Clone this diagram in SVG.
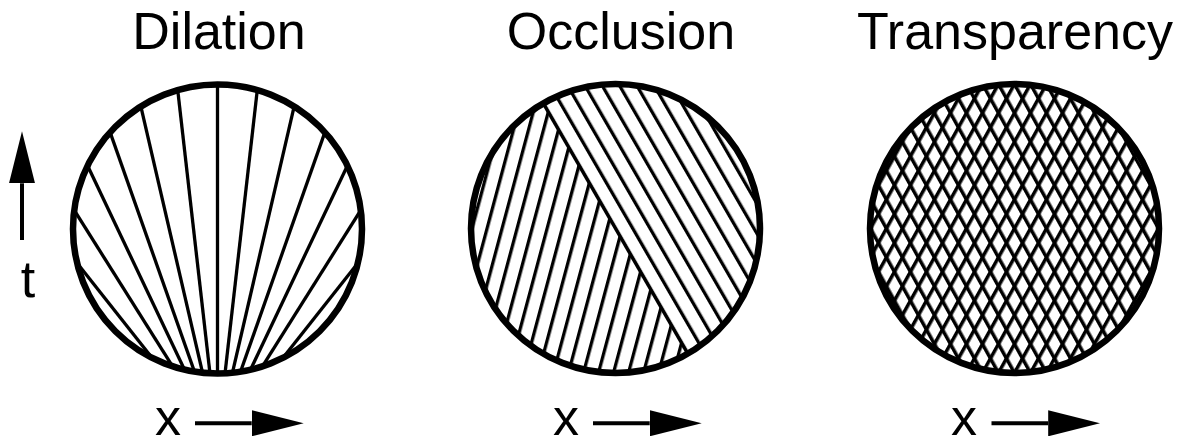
<svg xmlns="http://www.w3.org/2000/svg" width="1190" height="444" viewBox="0 0 1190 444">
<style>
.title{font-family:"Liberation Sans",Arial,Helvetica,sans-serif;font-size:52px;fill:#000;text-anchor:middle}
.ring{fill:none;stroke:#000;stroke-width:6.5}
.ray{stroke:#000;stroke-width:3.3;fill:none}
.axis{stroke:#000;stroke-width:4;fill:none;marker-end:url(#head)}
</style>
<defs>
<marker id="head" markerUnits="userSpaceOnUse" markerWidth="52" markerHeight="26" refX="0" refY="13" orient="auto" viewBox="0 0 52 26"><path d="M0,0 L52,13 L0,26 Z" fill="#000"/></marker>
<clipPath id="clip1"><circle cx="217.5" cy="229" r="145"/></clipPath>
<pattern id="hatchL" patternUnits="userSpaceOnUse" width="14.5" height="20" patternTransform="translate(615.5,228.5) rotate(15) translate(4.8,0)"><rect width="3.3" height="20" fill="#000"/></pattern>
<pattern id="hatchR" patternUnits="userSpaceOnUse" width="15" height="20" patternTransform="translate(615.5,228.5) rotate(-30) translate(-1.65,0)"><rect width="3.3" height="20" fill="#000"/></pattern>
<pattern id="crossA" patternUnits="userSpaceOnUse" width="14" height="20" patternTransform="translate(1014.5,228.5) rotate(29) translate(-1.75,0)"><rect width="3.5" height="20" fill="#000"/></pattern>
<pattern id="crossB" patternUnits="userSpaceOnUse" width="14" height="20" patternTransform="translate(1014.5,228.5) rotate(-29) translate(-1.75,0)"><rect width="3.5" height="20" fill="#000"/></pattern>
</defs>
<rect width="1190" height="444" fill="#fff"/>

<g id="dilation">
<text class="title" x="219" y="49">Dilation</text>
<g clip-path="url(#clip1)">
<line class="ray" x1="217.5" y1="60" x2="217.5" y2="400"/>
<line class="ray" x1="174.5" y1="61.8" x2="213.2" y2="401.6"/>
<line class="ray" x1="134.7" y1="79.9" x2="208.7" y2="399.3"/>
<line class="ray" x1="101.7" y1="108.4" x2="202.9" y2="395.6"/>
<line class="ray" x1="77.9" y1="145.3" x2="194.2" y2="390.1"/>
<line class="ray" x1="65.3" y1="196" x2="182.3" y2="381.8"/>
<line class="ray" x1="71.6" y1="256" x2="158.7" y2="366.3"/>
<line class="ray" x1="260.5" y1="61.8" x2="221.8" y2="401.6"/>
<line class="ray" x1="300.3" y1="79.9" x2="226.3" y2="399.3"/>
<line class="ray" x1="333.3" y1="108.4" x2="232.1" y2="395.6"/>
<line class="ray" x1="357.1" y1="145.3" x2="240.8" y2="390.1"/>
<line class="ray" x1="369.7" y1="196" x2="252.7" y2="381.8"/>
<line class="ray" x1="363.4" y1="256" x2="276.3" y2="366.3"/>
</g>
<circle class="ring" cx="217.5" cy="229" r="144.5"/>
</g>

<g id="occlusion">
<text class="title" x="621" y="49">Occlusion</text>
<path d="M543,102.93 L688,354.07 A145,145 0 0 1 543,102.93 Z" fill="url(#hatchL)"/>
<path d="M543,102.93 L688,354.07 A145,145 0 0 0 543,102.93 Z" fill="url(#hatchR)"/>
<line class="ray" x1="543" y1="102.93" x2="688" y2="354.07"/>
<circle class="ring" cx="615.5" cy="228.5" r="144.5"/>
</g>

<g id="transparency">
<text class="title" x="1015" y="49">Transparency</text>
<circle cx="1014.5" cy="228.5" r="145" fill="url(#crossA)"/>
<circle cx="1014.5" cy="228.5" r="145" fill="url(#crossB)"/>
<circle class="ring" cx="1014.5" cy="228.5" r="144.5"/>
</g>

<g id="labels">
<text class="title" x="28" y="297">t</text>
<text class="title" x="168" y="435">x</text>
<text class="title" x="566" y="435">x</text>
<text class="title" x="964" y="435">x</text>
</g>

<g id="connectors">
<line class="axis" x1="22" y1="240" x2="22" y2="183.3"/>
<line class="axis" x1="195" y1="423.3" x2="251.7" y2="423.3"/>
<line class="axis" x1="593" y1="423.3" x2="649.7" y2="423.3"/>
<line class="axis" x1="991.5" y1="423.3" x2="1048.2" y2="423.3"/>
</g>
</svg>
